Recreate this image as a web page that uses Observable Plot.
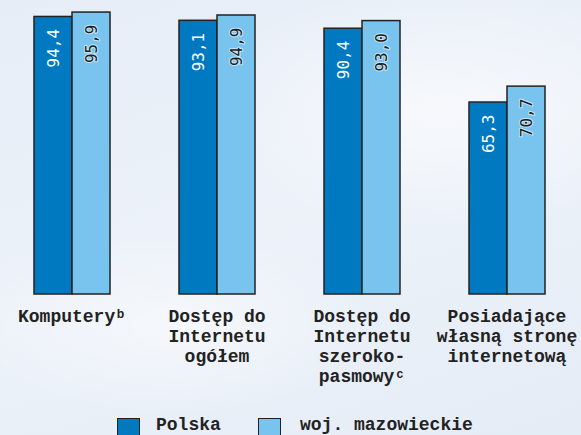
<!DOCTYPE html>
<html>
<head>
<meta charset="utf-8">
<script src="https://cdn.jsdelivr.net/npm/d3@7"></script>
<script src="https://cdn.jsdelivr.net/npm/@observablehq/plot@0.6"></script>
<style>
  html, body { margin: 0; padding: 0; }
  body {
    width: 581px; height: 435px; overflow: hidden; position: relative;
    background:
      radial-gradient(ellipse 60% 40% at 75% 25%, rgba(255,255,255,0.55), rgba(255,255,255,0) 70%),
      radial-gradient(ellipse 50% 30% at 30% 75%, rgba(255,255,255,0.5), rgba(255,255,255,0) 70%),
      linear-gradient(160deg, #e6edf7 0%, #edf2f9 50%, #e4ecf6 100%);
  }
  #chart svg { background: transparent !important; display: block; }
  .leg { position: absolute; font-family: "Liberation Mono", monospace; font-weight: bold; font-size: 18px; color: #222; }
  .sw { position: absolute; width: 23px; height: 23px; border: 1.5px solid #222; box-sizing: border-box; }
</style>
</head>
<body>
<div id="chart"></div>
<div id="legend"></div>
<script>
const categories = ["Komputery", "Dostęp do Internetu ogółem", "Dostęp do Internetu szerokopasmowy", "Posiadające własną stronę internetową"];
const categoryLabels = ["Komputeryᵇ", "Dostęp do\nInternetu\nogółem", "Dostęp do\nInternetu\nszeroko-\npasmowyᶜ", "Posiadające\nwłasną stronę\ninternetową"];
const series = ["Polska", "woj. mazowieckie"];
const polska = [94.4, 93.1, 90.4, 65.3];
const mazowieckie = [95.9, 94.9, 93.0, 70.7];
const colors = ["#0079c1", "#79c4ee"];

const data = [];
categories.forEach((c, i) => {
  data.push({category: c, series: series[0], value: polska[i]});
  data.push({category: c, series: series[1], value: mazowieckie[i]});
});
const labelOf = new Map(categories.map((c, i) => [c, categoryLabels[i]]));
const fmt = v => v.toFixed(1).replace(".", ",");

const chart = Plot.plot({
  width: 581,
  height: 410,
  marginTop: 0,
  marginBottom: 116,
  marginLeft: 32,
  marginRight: 35.5,
  style: {background: "transparent"},
  fx: {domain: categories, paddingInner: 0.47, paddingOuter: 0, axis: null, label: null},
  x: {domain: series, padding: 0, axis: null, label: null},
  y: {domain: [0, 100], axis: null, label: null},
  color: {domain: series, range: colors},
  marks: [
    Plot.barY(data, {fx: "category", x: "series", y: "value", fill: "series", stroke: "#222", strokeWidth: 1.5}),
    Plot.text(data.filter(d => d.series === series[0]), {
      fx: "category", x: "series", y: "value", text: d => fmt(d.value),
      rotate: -90, textAnchor: "end", dy: 12, fill: "white",
      fontSize: 16, fontFamily: "DejaVu Sans Mono, monospace"
    }),
    Plot.text(data.filter(d => d.series === series[1]), {
      fx: "category", x: "series", y: "value", text: d => fmt(d.value),
      rotate: -90, textAnchor: "end", dy: 12, fill: "#1a1a1a",
      stroke: "white", strokeWidth: 2, strokeOpacity: 0.6,
      fontSize: 16, fontFamily: "DejaVu Sans Mono, monospace"
    }),
    Plot.text(categories, {
      fx: d => d, text: d => labelOf.get(d), frameAnchor: "bottom",
      lineAnchor: "top", dy: 13, lineHeight: 1.11,
      fontSize: 18, fontWeight: "bold", fill: "#222",
      fontFamily: "Liberation Mono, monospace"
    })
  ]
});
document.getElementById("chart").appendChild(chart);

const legend = document.getElementById("legend");
const legendPos = [{sw: 117, tx: 156}, {sw: 258, tx: 300}];
series.forEach((s, i) => {
  const sw = document.createElement("div");
  sw.className = "sw";
  sw.style.left = legendPos[i].sw + "px";
  sw.style.top = "418px";
  sw.style.background = colors[i];
  legend.appendChild(sw);
  const t = document.createElement("div");
  t.className = "leg";
  t.style.left = legendPos[i].tx + "px";
  t.style.top = "415px";
  t.textContent = s;
  legend.appendChild(t);
});
</script>
</body>
</html>
